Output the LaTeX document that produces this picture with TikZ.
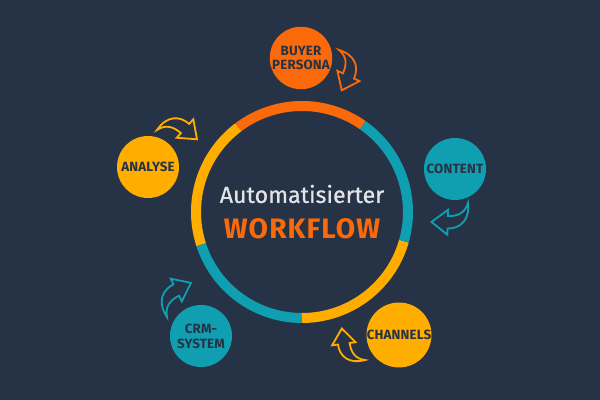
\documentclass[tikz,border=0pt]{standalone}
\usepackage{fontspec}
\setmainfont{Fira Sans}
\usetikzlibrary{positioning}
\definecolor{bgc}{HTML}{263245}
\definecolor{shadowc}{HTML}{131A26}
\definecolor{wforange}{HTML}{FA6A0A}
\definecolor{wfyellow}{HTML}{FFAE00}
\definecolor{wfteal}{HTML}{0F9FB1}
\definecolor{wfgrey}{HTML}{E2E4E8}
\pgfdeclareradialshading{innershadow}{\pgfpointorigin}{color(0bp)=(bgc); color(37bp)=(bgc); color(50bp)=(shadowc)}
\tikzset{
	stepdot/.style={circle,minimum size=1.55cm,inner sep=0pt,align=center,text=bgc,
		font=\bfseries\fontsize{9.5}{10.5}\selectfont\addfontfeature{LetterSpace=1}},
	ring/.style={line width=0.25cm},
	pics/bendarrow/.style={code={
		\draw[line width=1.3pt] (0,0) .. controls (14,2) and (21,-6) .. (21,-16) -- (26,-16) -- (16,-29)
			-- (6,-16) -- (11,-16) .. controls (11,-8) and (8,-2) .. (0,0) -- cycle;}}
}
\begin{document}
\begin{tikzpicture}[x=0.025cm,y=0.025cm]
			\fill[bgc] (0,0) rectangle (600,400);
			% centre
			\coordinate (hub) at (302,188);
			\shade[shading=innershadow] (hub) circle (101);
			\draw[ring,wforange] (hub) ++(55:106) arc[start angle=55,end angle=127,radius=106];
			\draw[ring,wfyellow] (hub) ++(127:106) arc[start angle=127,end angle=198,radius=106];
			\draw[ring,wfteal] (hub) ++(198:106) arc[start angle=198,end angle=270,radius=106];
			\draw[ring,wfyellow] (hub) ++(270:106) arc[start angle=270,end angle=344,radius=106];
			\draw[ring,wfteal] (hub) ++(344:106) arc[start angle=344,end angle=415,radius=106];
			\node[text=wfgrey,font=\fontsize{16.5}{18}\selectfont\addfontfeature{FakeBold=0.6}] (auto) at (302,206) {Automatisierter};
			\node[text=wforange,font=\bfseries\fontsize{20}{22}\selectfont\addfontfeature{LetterSpace=4}] (flow) at (302,171) {WORKFLOW};
			% steps
			\node[stepdot,fill=wforange] (buyer) at (301,342) {BUYER\\PERSONA};
			\node[stepdot,fill=wfteal] (content) at (455,231) {CONTENT};
			\node[stepdot,fill=wfyellow] (channels) at (399,65) {CHANNELS};
			\node[stepdot,fill=wfteal] (crm) at (201,64) {CRM-\\SYSTEM};
			\node[stepdot,fill=wfyellow] (analyse) at (148,233) {ANALYSE};
			% arrows
			\pic[color=wforange,rotate=-25,scale=1.22] at (339,350) {bendarrow};
			\pic[color=wfteal,rotate=-91.5,scale=1.24] at (468,197) {bendarrow};
			\pic[color=wfyellow,rotate=187.5,scale=1.18] at (365,40) {bendarrow};
			\pic[color=wfteal,rotate=116,scale=1.26] at (167,83) {bendarrow};
			\pic[color=wfyellow,rotate=48,scale=1.24] at (157,270) {bendarrow};
		\end{tikzpicture}
\end{document}
